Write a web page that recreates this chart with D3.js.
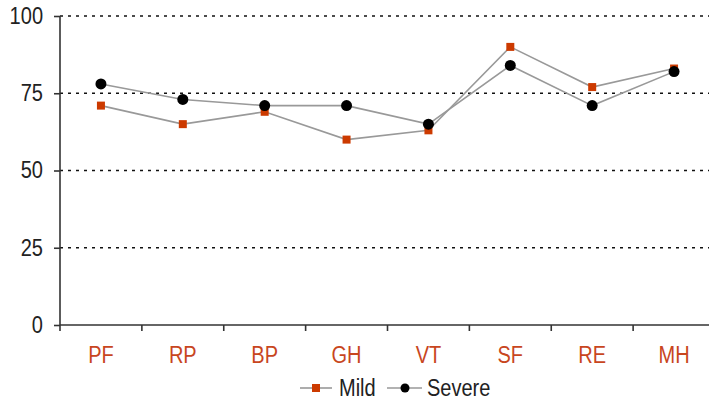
<!DOCTYPE html>
<html lang="en">
  <head>
    <meta charset="UTF-8" />
    <title>Mild vs Severe</title>
    <script src="https://d3js.org/d3.v7.min.js"></script>
    <style>
      body { margin: 0; background: #fff; }
      svg { display: block; font-family: "Liberation Sans", Arial, sans-serif; }
      .grid line { stroke: #111; stroke-width: 1.6; stroke-dasharray: 3 5; }
      .axis path, .axis line { stroke: #333; stroke-width: 1.6; }
      .y-axis text { font-size: 23px; fill: #222; }
      .x-axis text { font-size: 23px; fill: #c8461e; }
      .series { fill: none; stroke: #999; stroke-width: 1.6; }
      .legend text { font-size: 23px; fill: #222; }
    </style>
  </head>
  <body>
    <svg width="709" height="402"></svg>
    <script>
      // categories and values
      const categories = ["PF", "RP", "BP", "GH", "VT", "SF", "RE", "MH"];
      const mild = [71, 65, 69, 60, 63, 90, 77, 83];
      const severe = [78, 73, 71, 71, 65, 84, 71, 82];
      const yTicks = [0, 25, 50, 75, 100];

      const svg = d3.select("svg");
      const plotLeft = 60, plotRight = 715, plotTop = 16, plotBottom = 325;

      const x = d3.scaleBand().domain(categories).range([plotLeft, plotRight]);
      const y = d3.scaleLinear().domain([0, 100]).range([plotBottom, plotTop]);

      // dotted grid
      svg.append("g")
        .attr("class", "grid")
        .selectAll("line")
        .data(yTicks.filter((d) => d > 0))
        .enter()
        .append("line")
        .attr("x1", plotLeft)
        .attr("x2", 709)
        .attr("y1", (d) => y(d))
        .attr("y2", (d) => y(d));

      // y axis
      const yAxis = svg.append("g")
        .attr("class", "axis y-axis")
        .attr("transform", `translate(${plotLeft},0)`)
        .call(d3.axisLeft(y).tickValues(yTicks).tickSize(6).tickPadding(11).tickSizeOuter(0));
      yAxis.select(".domain").attr("d", `M0,${plotTop}V${plotBottom}`);

      // x axis with ticks at band edges
      const xAxis = svg.append("g")
        .attr("class", "axis x-axis")
        .attr("transform", `translate(0,${plotBottom})`);
      xAxis.append("line")
        .attr("x1", plotLeft)
        .attr("x2", 709);
      xAxis.selectAll(".tk")
        .data(categories)
        .enter()
        .append("line")
        .attr("class", "tk")
        .attr("x1", (d) => x(d))
        .attr("x2", (d) => x(d))
        .attr("y1", 0)
        .attr("y2", 6);
      xAxis.selectAll("text")
        .data(categories)
        .enter()
        .append("text")
        .attr("x", (d) => x(d) + x.bandwidth() / 2)
        .attr("y", 38)
        .attr("text-anchor", "middle")
        .text((d) => d);

      const cx = (i) => x(categories[i]) + x.bandwidth() / 2;
      const line = d3.line().x((d, i) => cx(i)).y((d) => y(d));

      svg.append("path").attr("class", "series").attr("d", line(mild));
      svg.append("path").attr("class", "series").attr("d", line(severe));

      svg.append("g")
        .selectAll("rect")
        .data(mild)
        .enter()
        .append("rect")
        .attr("x", (d, i) => cx(i) - 4)
        .attr("y", (d) => y(d) - 4)
        .attr("width", 8)
        .attr("height", 8)
        .attr("fill", "#cc3a00");

      svg.append("g")
        .selectAll("circle")
        .data(severe)
        .enter()
        .append("circle")
        .attr("cx", (d, i) => cx(i))
        .attr("cy", (d) => y(d))
        .attr("r", 5.5)
        .attr("fill", "#000");

      // legend
      const legend = svg.append("g").attr("class", "legend");
      const ly = 388;
      legend.append("line").attr("x1", 300).attr("x2", 332).attr("y1", ly).attr("y2", ly)
        .attr("stroke", "#999").attr("stroke-width", 1.6);
      legend.append("rect").attr("x", 312).attr("y", ly - 4).attr("width", 8).attr("height", 8)
        .attr("fill", "#cc3a00");
      legend.append("text").attr("x", 339).attr("y", ly + 8).text("Mild");
      legend.append("line").attr("x1", 387).attr("x2", 422).attr("y1", ly).attr("y2", ly)
        .attr("stroke", "#999").attr("stroke-width", 1.6);
      legend.append("circle").attr("cx", 405).attr("cy", ly).attr("r", 4.5).attr("fill", "#000");
      legend.append("text").attr("x", 427).attr("y", ly + 8).text("Severe");

      // the original font is a narrow sans, so squeeze the glyphs a bit
      svg.selectAll("text").each(function () {
        const w = this.getComputedTextLength();
        d3.select(this)
          .attr("textLength", w * 0.87)
          .attr("lengthAdjust", "spacingAndGlyphs");
      });
    </script>
  </body>
</html>
